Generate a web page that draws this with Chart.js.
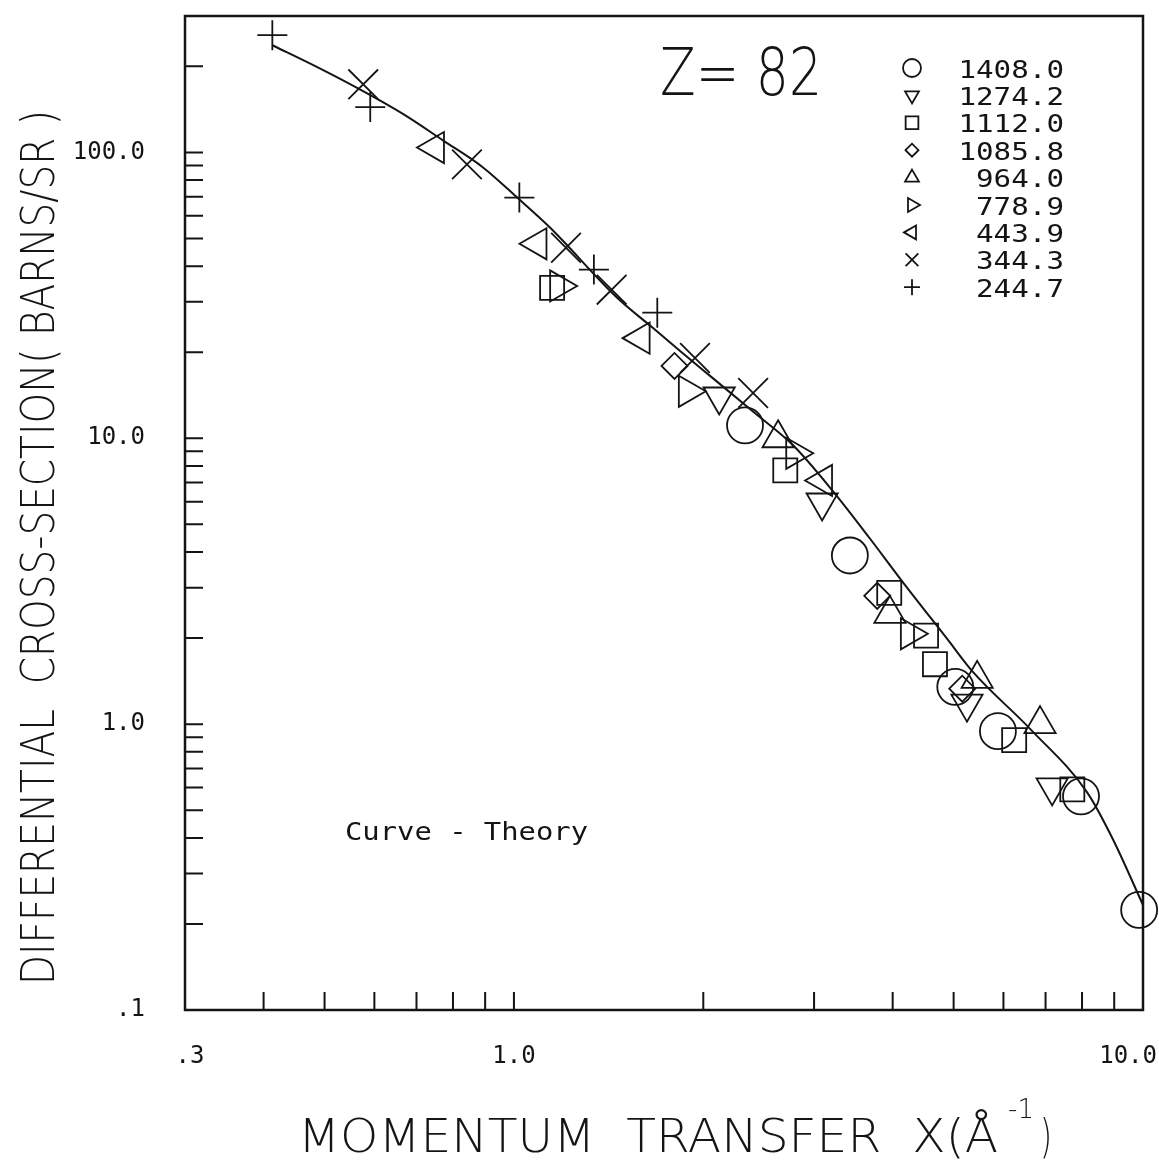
<!DOCTYPE html>
<html>
<head>
<meta charset="utf-8">
<script src="https://cdn.jsdelivr.net/npm/chart.js@4.4.1/dist/chart.umd.min.js"></script>
<style>
html, body { margin: 0; background: #fff; }
canvas { display: block; }
</style>
</head>
<body>
<canvas id="chart" width="1159" height="1167"></canvas>
<script>
const INK = '#141414';

// momentum transfer (1/Å) and cross-section (barns/sr), one pair per beam energy
const q1408 = [2.33, 3.42, 5.03, 5.88, 7.97, 9.86];
const s1408 = [11.1, 3.89, 1.35, 0.945, 0.559, 0.224];
const q1274 = [2.12, 3.09, 5.25, 7.17];
const s1274 = [14.0, 5.96, 1.18, 0.601];
const q1112 = [1.15, 2.70, 3.95, 4.52, 4.67, 6.24, 7.72];
const s1112 = [33.6, 7.72, 2.88, 2.04, 1.62, 0.879, 0.591];
const q1085 = [1.80, 3.78, 5.16];
const s1085 = [17.9, 2.81, 1.33];
const q964 = [2.63, 3.96, 5.45, 6.86];
const s964 = [10.0, 2.43, 1.44, 1.00];
const q778 = [1.18, 1.89, 2.80, 4.26];
const s778 = [34.1, 14.6, 8.86, 2.07];
const q443 = [0.749, 1.09, 1.59, 3.10];
const s443 = [104, 47.9, 22.4, 7.12];
const q344 = [0.576, 0.842, 1.21, 1.43, 1.94, 2.40];
const s344 = [173, 90.8, 46.4, 33.1, 19.1, 14.4];
const q244 = [0.413, 0.591, 1.02, 1.34, 1.69];
const s244 = [257, 144, 69.5, 38.9, 27.5];

// theory curve
const theoryQ = [0.413, 0.486, 0.569, 0.667, 0.772, 0.893, 1.012, 1.141, 1.459, 1.664, 1.837,
  2.073, 2.399, 2.778, 3.216, 3.68, 4.11, 4.88, 5.37, 6.62, 8.15, 8.96, 10.0];
const theoryS = [237, 199, 166, 136, 110, 88.6, 69.5, 54.6, 31.0, 24.3, 20.2,
  16.2, 12.4, 9.45, 6.52, 4.46, 3.23, 1.99, 1.52, 0.961, 0.577, 0.395, 0.233];

// axis ticks and labels
const xTicks = [0.4, 0.5, 0.6, 0.7, 0.8, 0.9, 1, 2, 3, 4, 5, 6, 7, 8, 9];
const xLabels = [[0.3, '.3'], [1, '1.0'], [10, '10.0']];
const yTicks = [200, 100, 90, 80, 70, 60, 50, 40, 30, 20, 10, 9, 8, 7, 6, 5, 4, 3, 2,
  1, 0.9, 0.8, 0.7, 0.6, 0.5, 0.4, 0.3, 0.2];
const yLabels = [[100, '100.0'], [10, '10.0'], [1, '1.0'], [0.1, '.1']];

const series = [
  { label: '1408.0', q: q1408, s: s1408, style: 'circle', rot: 0, r: 18, lr: 9 },
  { label: '1274.2', q: q1274, s: s1274, style: 'triangle', rot: 180, r: 18, lr: 8 },
  { label: '1112.0', q: q1112, s: s1112, style: 'rect', rot: 0, r: 17, lr: 9 },
  { label: '1085.8', q: q1085, s: s1085, style: 'rectRot', rot: 0, r: 13, lr: 6.5 },
  { label: '964.0', q: q964, s: s964, style: 'triangle', rot: 0, r: 18, lr: 8 },
  { label: '778.9', q: q778, s: s778, style: 'triangle', rot: 90, r: 18, lr: 8 },
  { label: '443.9', q: q443, s: s443, style: 'triangle', rot: 270, r: 18, lr: 8 },
  { label: '344.3', q: q344, s: s344, style: 'crossRot', rot: 0, r: 21, lr: 9 },
  { label: '244.7', q: q244, s: s244, style: 'cross', rot: 0, r: 15, lr: 8 },
];

function toPoints(xs, ys) { return xs.map((x, i) => ({ x, y: ys[i] })); }

// squeeze text horizontally so it spans the given width
function fitText(ctx, text, x, y, width, font) {
  ctx.font = font;
  const w = ctx.measureText(text).width;
  ctx.save();
  ctx.translate(x, y);
  ctx.scale(width / w, 1);
  ctx.fillText(text, 0, 0);
  ctx.restore();
}

const frame = {
  id: 'frame',
  beforeDatasetsDraw(chart) {
    const { ctx, chartArea: a, scales: { x, y } } = chart;
    ctx.save();
    ctx.strokeStyle = INK;
    ctx.lineWidth = 2.5;
    ctx.strokeRect(a.left, a.top, a.right - a.left, a.bottom - a.top);
    ctx.lineWidth = 2;
    ctx.beginPath();
    xTicks.forEach(v => {
      const px = x.getPixelForValue(v);
      ctx.moveTo(px, a.bottom);
      ctx.lineTo(px, a.bottom - 18);
    });
    yTicks.forEach(v => {
      const py = y.getPixelForValue(v);
      ctx.moveTo(a.left, py);
      ctx.lineTo(a.left + 18, py);
    });
    ctx.stroke();

    ctx.fillStyle = INK;
    ctx.textBaseline = 'middle';
    ctx.font = '24px "DejaVu Sans Mono"';
    ctx.textAlign = 'right';
    yLabels.forEach(([v, t]) => ctx.fillText(t, a.left - 40, y.getPixelForValue(v)));
    xLabels.forEach(([v, t]) => {
      const px = x.getPixelForValue(v);
      if (v === 10) {
        ctx.textAlign = 'right';
        ctx.fillText(t, px + 14, a.bottom + 47);
      } else {
        ctx.textAlign = 'center';
        ctx.fillText(t, px + (v < 1 ? 5 : 0), a.bottom + 47);
      }
    });
    ctx.restore();
  },
  afterDraw(chart) {
    const { ctx } = chart;
    ctx.save();
    ctx.fillStyle = INK;
    ctx.textAlign = 'left';
    ctx.textBaseline = 'alphabetic';

    // axis titles
    fitText(ctx, 'MOMENTUM  TRANSFER  X(Å', 298, 1152, 700, '300 46px "DejaVu Sans"');
    ctx.font = '300 26px "DejaVu Sans"';
    ctx.fillText('-1', 1008, 1118);
    fitText(ctx, ')', 1040, 1152, 12, '300 46px "DejaVu Sans"');

    ctx.save();
    ctx.translate(54, 985);
    ctx.rotate(-Math.PI / 2);
    fitText(ctx, 'DIFFERENTIAL  CROSS-SECTION( BARNS/SR )', 0, 0, 875, '300 46px "DejaVu Sans"');
    ctx.restore();

    fitText(ctx, 'Z= 82', 660, 95, 162, '300 66px "DejaVu Sans"');
    fitText(ctx, 'Curve - Theory', 345, 840, 243, '24px "DejaVu Sans Mono"');

    // energy key
    const draw = Chart.helpers && Chart.helpers.drawPoint;
    ctx.textBaseline = 'middle';
    series.forEach((s, i) => {
      const yy = 71 + i * 27.4;
      const w = s.label.length * 17.6;
      fitText(ctx, s.label, 1064 - w, yy, w, '25px "DejaVu Sans Mono"');
      if (draw) {
        ctx.strokeStyle = INK;
        ctx.fillStyle = 'rgba(0,0,0,0)';
        draw(ctx, { pointStyle: s.style, rotation: s.rot, radius: s.lr, borderWidth: 2 }, 912, yy - 3);
        ctx.fillStyle = INK;
      }
    });
    ctx.restore();
  }
};

const datasets = [{
  label: 'Theory',
  data: toPoints(theoryQ, theoryS),
  showLine: true,
  borderColor: INK,
  borderWidth: 2,
  pointRadius: 0,
  cubicInterpolationMode: 'monotone',
  clip: false,
}].concat(series.map(s => ({
  label: s.label,
  data: toPoints(s.q, s.s),
  showLine: false,
  pointStyle: s.style,
  rotation: s.rot,
  pointRadius: s.r,
  pointBorderWidth: 1.8,
  pointBorderColor: INK,
  pointBackgroundColor: 'rgba(0,0,0,0)',
  clip: false,
})));

new Chart(document.getElementById('chart'), {
  type: 'scatter',
  data: { datasets },
  options: {
    responsive: false,
    animation: false,
    layout: { autoPadding: false, padding: { left: 185, right: 16, top: 16, bottom: 157 } },
    plugins: { legend: { display: false }, tooltip: { enabled: false } },
    scales: {
      x: { type: 'logarithmic', min: 0.3, max: 10, display: false },
      y: { type: 'logarithmic', min: 0.1, max: 300, display: false },
    },
  },
  plugins: [frame],
});
</script>
</body>
</html>
